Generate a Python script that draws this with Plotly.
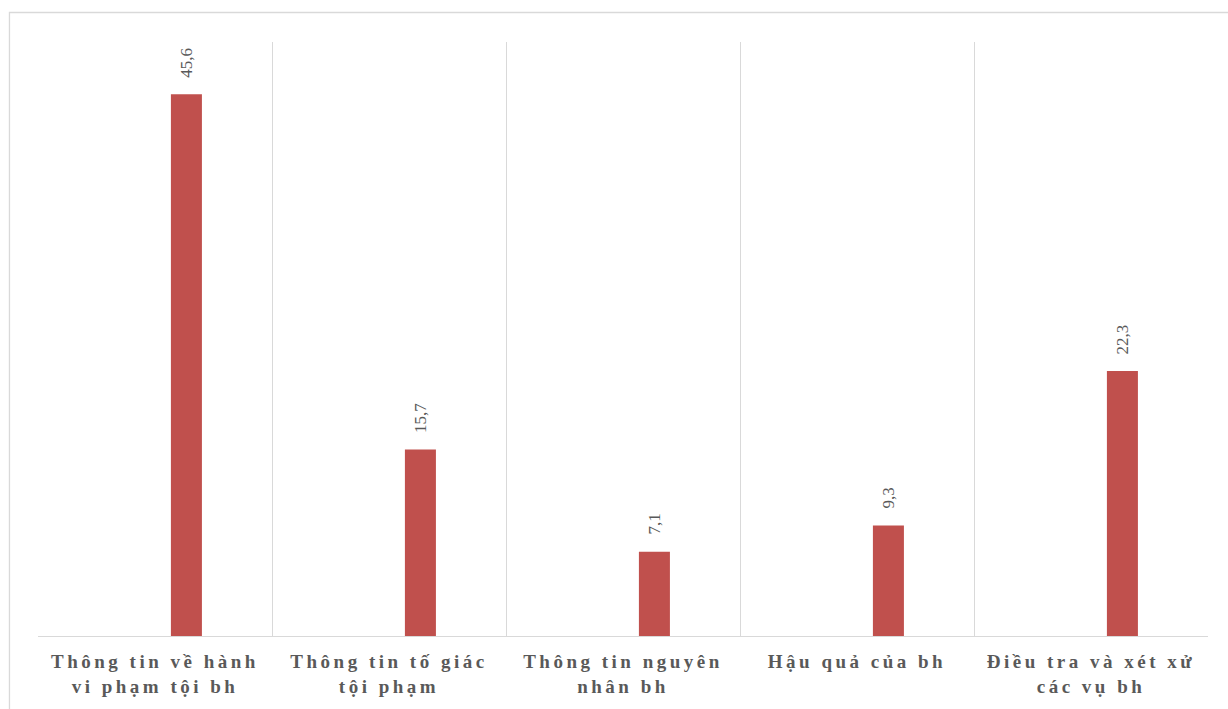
import plotly.graph_objects as go

# Categories (tick labels) and percentage values
categories = [
    "Thông tin về hành<br>vi phạm tội bh",
    "Thông tin tố giác<br>tội phạm",
    "Thông tin nguyên<br>nhân bh",
    "Hậu quả của bh",
    "Điều tra và xét xử<br>các vụ bh",
]
values = [45.6, 15.7, 7.1, 9.3, 22.3]
value_labels = [f"{v:.1f}".replace(".", ",") for v in values]

BAR_COLOR = "#C0504D"
GRID_COLOR = "#D9D9D9"
TEXT_COLOR = "#595959"
SERIF = "Liberation Serif, Times New Roman, serif"

BAR_WIDTH = 0.1325
BAR_OFFSET = 0.068  # bar sits in the right half of each category slot

fig = go.Figure(
    go.Bar(
        x=categories,
        y=values,
        marker=dict(color=BAR_COLOR, line=dict(width=0)),
        width=BAR_WIDTH,
        offset=BAR_OFFSET,
        hoverinfo="skip",
    )
)

# vertical value labels above each bar
annotations = [
    dict(
        x=i + BAR_OFFSET + BAR_WIDTH / 2,
        y=v,
        xref="x",
        yref="y",
        text=lbl,
        textangle=-90,
        showarrow=False,
        xanchor="center",
        yanchor="bottom",
        yshift=15,
        font=dict(family=SERIF, size=17, color=TEXT_COLOR),
    )
    for i, (v, lbl) in enumerate(zip(values, value_labels))
]

fig.update_layout(
    width=1228,
    height=709,
    margin=dict(l=38, r=20, t=42, b=73),
    paper_bgcolor="white",
    plot_bgcolor="white",
    showlegend=False,
    annotations=annotations,
    xaxis=dict(
        type="category",
        tickson="boundaries",
        showgrid=True,
        gridcolor=GRID_COLOR,
        gridwidth=1.3,
        showline=True,
        linecolor=GRID_COLOR,
        linewidth=1.3,
        ticks="",
        tickangle=0,
        ticklabelstandoff=8,
        tickfont=dict(family=SERIF, size=19, color=TEXT_COLOR, weight="bold"),
        zeroline=False,
    ),
    yaxis=dict(
        range=[0, 50],
        visible=False,
        showgrid=False,
        zeroline=False,
    ),
    shapes=[
        # outer chart frame
        dict(
            type="rect",
            xref="paper",
            yref="paper",
            x0=-0.0244,
            x1=1.03,
            y0=-0.16,
            y1=1.0497,
            line=dict(color=GRID_COLOR, width=1.3),
            fillcolor="rgba(0,0,0,0)",
            layer="below",
        )
    ],
)

letter_spacing_js = """
var s = document.createElement('style');
s.textContent = '.xtick text, .xtick tspan { letter-spacing: 3.5px; }';
document.head.appendChild(s);
"""

fig.write_html("out.html", post_script=letter_spacing_js)
